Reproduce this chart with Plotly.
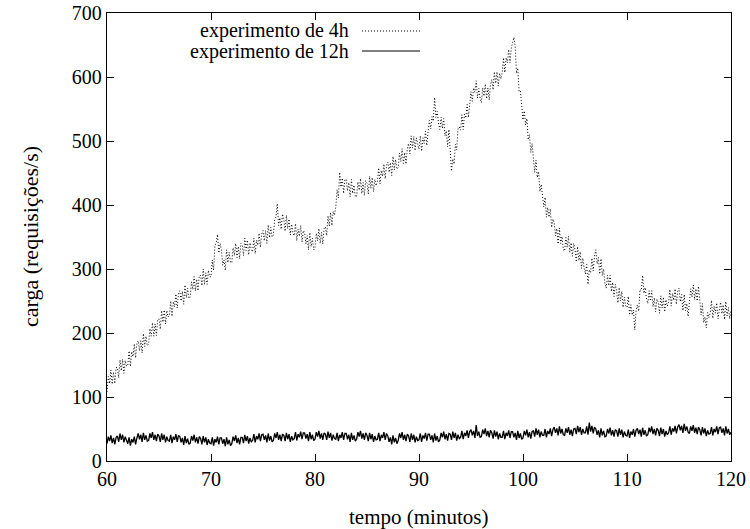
import plotly.graph_objects as go

t_start = 60.0
step_4h = 0.125
step_12h = 0.125

load_4h = [
    108, 132, 121, 142, 120, 139, 121, 146,
    146, 130, 158, 141, 159, 137, 157, 148,
    150, 172, 148, 171, 163, 183, 161, 184,
    188, 172, 188, 169, 199, 179, 195, 180,
    182, 207, 195, 216, 195, 214, 196, 221,
    222, 206, 235, 217, 236, 214, 235, 225,
    228, 250, 226, 249, 241, 261, 239, 262,
    266, 250, 265, 245, 275, 255, 270, 254,
    256, 280, 268, 288, 266, 284, 266, 290,
    290, 274, 300, 276, 294, 276, 298, 288,
    288, 314, 298, 336, 341, 354, 325, 340,
    330, 306, 314, 298, 330, 310, 326, 310,
    310, 333, 321, 340, 318, 335, 316, 340,
    338, 321, 348, 329, 345, 322, 341, 330,
    327, 348, 324, 345, 337, 356, 334, 355,
    360, 344, 360, 340, 369, 349, 365, 350,
    353, 378, 381, 402, 368, 380, 362, 386,
    378, 359, 384, 363, 378, 353, 370, 357,
    352, 371, 344, 362, 351, 368, 342, 360,
    357, 339, 352, 330, 357, 335, 348, 330,
    333, 356, 344, 363, 340, 357, 339, 363,
    366, 352, 383, 367, 388, 368, 390, 384,
    397, 424, 411, 451, 428, 442, 418, 440,
    440, 422, 435, 413, 440, 418, 431, 413,
    413, 436, 423, 441, 418, 435, 415, 438,
    434, 417, 445, 426, 443, 421, 440, 430,
    437, 458, 433, 454, 445, 464, 441, 462,
    467, 451, 466, 446, 476, 455, 471, 456,
    458, 481, 468, 488, 465, 482, 464, 488,
    496, 480, 508, 489, 507, 485, 505, 497,
    487, 508, 484, 505, 496, 515, 493, 515,
    532, 519, 538, 531, 568, 537, 546, 528,
    518, 537, 520, 535, 508, 516, 491, 518,
    481, 453, 472, 464, 495, 486, 519, 522,
    517, 541, 518, 542, 536, 557, 537, 560,
    577, 562, 583, 576, 594, 567, 582, 566,
    560, 583, 570, 589, 566, 583, 564, 588,
    596, 580, 608, 590, 608, 586, 606, 597,
    607, 630, 607, 630, 622, 643, 622, 645,
    652, 662, 648, 606, 614, 577, 578, 548,
    533, 547, 525, 535, 502, 510, 482, 496,
    476, 451, 470, 443, 452, 421, 432, 412,
    397, 412, 381, 396, 381, 394, 365, 378,
    372, 352, 363, 339, 364, 340, 351, 330,
    328, 349, 334, 351, 326, 341, 320, 340,
    331, 311, 335, 313, 327, 301, 317, 302,
    292, 307, 276, 299, 294, 317, 297, 320,
    330, 308, 318, 292, 316, 290, 300, 278,
    270, 290, 274, 290, 265, 279, 257, 276,
    266, 247, 271, 250, 265, 240, 256, 242,
    240, 257, 228, 244, 228, 236, 205, 235,
    244, 234, 268, 266, 290, 262, 271, 253,
    246, 266, 250, 266, 241, 255, 233, 253,
    248, 231, 258, 239, 256, 233, 252, 242,
    248, 268, 242, 262, 251, 269, 245, 265,
    270, 249, 260, 235, 260, 235, 246, 226,
    246, 269, 256, 275, 252, 269, 250, 273,
    251, 228, 246, 216, 225, 208, 232, 224,
    232, 251, 223, 242, 231, 247, 222, 240,
    248, 230, 244, 221, 249, 227, 240, 222,
    236,
]

load_12h = [
    27, 38, 31, 40, 28, 36, 26, 37,
    39, 30, 43, 33, 41, 29, 38, 32,
    27, 37, 24, 34, 29, 38, 26, 36,
    43, 34, 41, 30, 44, 33, 40, 31,
    32, 43, 36, 45, 33, 41, 31, 42,
    39, 30, 43, 33, 41, 29, 38, 32,
    31, 41, 28, 38, 33, 42, 30, 40,
    38, 29, 36, 25, 39, 28, 35, 26,
    28, 39, 32, 41, 29, 37, 27, 38,
    35, 26, 39, 29, 37, 25, 34, 28,
    27, 37, 24, 34, 29, 38, 26, 36,
    36, 27, 34, 23, 37, 26, 33, 24,
    27, 38, 31, 40, 28, 36, 26, 37,
    37, 28, 41, 31, 39, 27, 36, 30,
    32, 42, 29, 39, 34, 43, 31, 41,
    42, 33, 40, 29, 43, 32, 39, 30,
    32, 43, 36, 45, 33, 41, 31, 42,
    40, 31, 44, 34, 42, 30, 39, 33,
    35, 45, 32, 42, 37, 46, 34, 44,
    44, 35, 42, 31, 45, 34, 41, 32,
    34, 45, 38, 47, 35, 43, 33, 44,
    42, 33, 46, 36, 44, 32, 41, 35,
    34, 44, 31, 41, 36, 45, 33, 43,
    43, 34, 41, 30, 44, 33, 40, 31,
    34, 45, 38, 47, 35, 43, 33, 44,
    40, 31, 44, 34, 42, 30, 39, 33,
    34, 44, 31, 41, 36, 45, 33, 43,
    39, 30, 37, 26, 40, 29, 36, 27,
    32, 43, 36, 45, 33, 41, 31, 42,
    39, 30, 43, 33, 41, 29, 38, 32,
    33, 43, 30, 40, 35, 44, 32, 42,
    42, 33, 40, 29, 43, 32, 39, 30,
    33, 44, 37, 46, 34, 42, 32, 43,
    42, 33, 46, 36, 44, 32, 41, 35,
    37, 47, 34, 44, 39, 48, 36, 46,
    49, 40, 47, 36, 56, 39, 46, 37,
    38, 49, 42, 51, 39, 47, 37, 48,
    44, 35, 48, 38, 46, 34, 43, 37,
    37, 47, 34, 44, 39, 48, 36, 46,
    46, 37, 44, 33, 47, 36, 43, 34,
    36, 47, 40, 49, 37, 45, 35, 46,
    47, 38, 51, 41, 49, 37, 46, 40,
    40, 50, 37, 47, 42, 51, 39, 49,
    53, 44, 51, 40, 54, 43, 50, 41,
    40, 51, 44, 53, 41, 49, 39, 50,
    51, 42, 55, 45, 53, 41, 50, 44,
    44, 54, 41, 60, 46, 55, 43, 53,
    50, 41, 48, 37, 51, 40, 47, 38,
    39, 50, 43, 52, 40, 48, 38, 49,
    47, 38, 51, 41, 49, 37, 46, 40,
    39, 49, 36, 46, 41, 50, 38, 48,
    51, 42, 49, 38, 52, 41, 48, 39,
    41, 52, 45, 54, 42, 50, 40, 51,
    48, 39, 52, 42, 50, 38, 47, 41,
    44, 54, 41, 51, 46, 55, 43, 53,
    57, 48, 55, 44, 58, 47, 54, 45,
    43, 54, 47, 56, 44, 52, 42, 53,
    49, 40, 53, 43, 51, 39, 48, 42,
    43, 53, 40, 50, 45, 54, 42, 52,
    53, 44, 51, 40, 54, 43, 50, 41,
    45,
]

x_ticks = [60, 70, 80, 90, 100, 110, 120]
y_ticks = [0, 100, 200, 300, 400, 500, 600, 700]
labels = ["experimento de 4h", "experimento de 12h"]
x_title = "tempo (minutos)"
y_title = "carga (requisições/s)"

times_4h = [t_start + i * step_4h for i in range(len(load_4h))]
times_12h = [t_start + i * step_12h for i in range(len(load_12h))]

FONT = "Liberation Serif"

fig = go.Figure()
fig.add_trace(go.Scatter(x=times_4h, y=load_4h, mode="lines", name=labels[0],
                         line=dict(color="black", width=1, dash="1px,2px"), showlegend=False))
fig.add_trace(go.Scatter(x=times_12h, y=load_12h, mode="lines", name=labels[1],
                         line=dict(color="black", width=1.3), showlegend=False))

axis_common = dict(showline=True, linecolor="black", linewidth=1.3, mirror="ticks",
                   ticks="inside", ticklen=7, tickwidth=1, tickcolor="black",
                   showgrid=False, zeroline=False, automargin=False,
                   tickfont=dict(family=FONT, size=20, color="black"))

fig.update_xaxes(range=[60, 120], tickvals=x_ticks, ticktext=[str(v) for v in x_ticks], **axis_common)
fig.update_yaxes(range=[0, 700], tickvals=y_ticks, ticktext=[str(v) for v in y_ticks], **axis_common)

W, H = 750, 529
ml, mr, mt, mb = 107, 19, 13, 68
pw, ph = W - ml - mr, H - mt - mb

def px_to_paper(x, y):
    return (x - ml) / pw, 1 - (y - mt) / ph

# axis titles
ax_x, ax_y = px_to_paper(418, 517)
fig.add_annotation(x=ax_x, y=ax_y, xref="paper", yref="paper", text=x_title, showarrow=False,
                   xanchor="center", yanchor="middle", font=dict(family=FONT, size=21, color="black"))
ay_x, ay_y = px_to_paper(30, 237)
fig.add_annotation(x=ay_x, y=ay_y, xref="paper", yref="paper", text=y_title, showarrow=False,
                   textangle=-90, xanchor="center", yanchor="middle",
                   font=dict(family=FONT, size=22, color="black"))

# gnuplot-style key: right-aligned text followed by sample line
for i, (lab, dash, lw) in enumerate([(labels[0], "1px,2px", 1), (labels[1], "solid", 1.2)]):
    ypx = 31 + i * 20
    tx, ty = px_to_paper(351, ypx)
    x0, _ = px_to_paper(362, ypx)
    x1, _ = px_to_paper(420, ypx)
    fig.add_annotation(x=tx, y=ty, xref="paper", yref="paper", text=lab, showarrow=False,
                       xanchor="right", yanchor="middle",
                       font=dict(family=FONT, size=20, color="black"))
    fig.add_shape(type="line", xref="paper", yref="paper", x0=x0, x1=x1, y0=ty, y1=ty,
                  line=dict(color="black", width=lw, dash=dash))

fig.update_layout(width=W, height=H, margin=dict(l=ml, r=mr, t=mt, b=mb, autoexpand=False),
                  paper_bgcolor="white", plot_bgcolor="white",
                  font=dict(family=FONT, color="black"))

fig.write_html("out.html", config={"displayModeBar": False},
               post_script="document.body.style.margin='0';document.body.style.overflow='hidden';")
